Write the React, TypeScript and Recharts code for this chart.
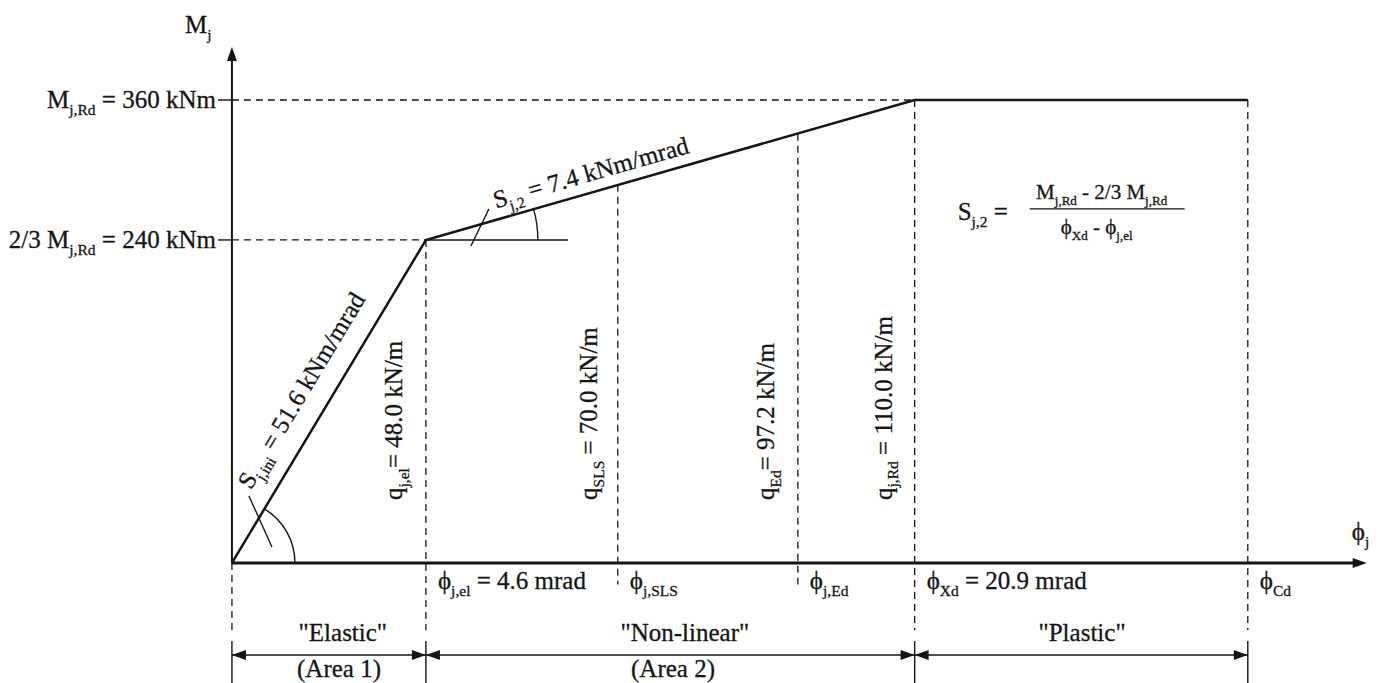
import React from 'react';
import { ComposedChart, Line, XAxis, YAxis, ReferenceLine, ReferenceDot } from 'recharts';

type Part = [string, boolean?];

const FONT = '"Liberation Serif", "Times New Roman", Times, serif';
const INK = '#151515';
const FS = 25;

// The sketch is not to scale: phi / M below are where things sit on the drawing,
// the labels carry the real values.
const phiDomain: [number, number] = [-5.5, 27.32];
const mDomain: [number, number] = [-89.2, 418.3];

const curvePhi = [0, 4.6, 16.19, 24.09];
const curveM = [0, 240, 344, 344];

const stationPhi = [4.6, 9.15, 13.42, 16.19, 24.09];
const stationM = [240, 281, 319, 344, 344];
const stationLabels: Part[][] = [
  [['ϕ'], ['j,el', true], [' = 4.6 mrad']],
  [['ϕ'], ['j,SLS', true]],
  [['ϕ'], ['j,Ed', true]],
  [['ϕ'], ['Xd', true], [' = 20.9 mrad']],
  [['ϕ'], ['Cd', true]],
];

const loadLabels: Part[][] = [
  [['q'], ['j,el', true], ['= 48.0 kN/m']],
  [['q'], ['SLS', true], [' = 70.0 kN/m']],
  [['q'], ['Ed', true], ['= 97.2 kN/m']],
  [['q'], ['j,Rd', true], [' = 110.0 kN/m']],
];
const loadShift = [-24, -21, -24, -23];

const levelM = [344, 240];
const levelEnd = [16.19, 4.6];
const levelLabels: Part[][] = [
  [['M'], ['j,Rd', true], [' = 360 kNm']],
  [['2/3 M'], ['j,Rd', true], [' = 240 kNm']],
];

const zoneEdges = [0, 4.6, 16.19, 24.09];
const zoneNames = ['"Elastic"', '"Non-linear"', '"Plastic"'];
const zoneNameAt = [2.63, 10.74, 20.16];
const zoneAreas = ['(Area 1)', '(Area 2)'];
const zoneAreaAt = [2.54, 10.46];

const phiAxisEnd = 26.91;
const mAxisEnd = 383.4;

// drawing levels below the phi axis
const GUIDE_LOW = -50;
const GUIDE_SHORT = -16;
const DIM_Y = -68.4;
const DIM_TOP = -58;
const BOTTOM = -89.2;

function rich(parts: Part[], size: number) {
  let shift = 0;
  return parts.map(([t, isSub], i) => {
    const target = isSub ? size * 0.27 : 0;
    const el = (
      <tspan key={i} dy={target - shift} fontSize={isSub ? size * 0.62 : size}>
        {t}
      </tspan>
    );
    shift = target;
    return el;
  });
}

const textStyle = {
  fontFamily: FONT,
  fill: INK,
  stroke: INK,
  strokeWidth: 0.3,
  whiteSpace: 'pre' as const,
};

function seg(key: string, x1: number, y1: number, x2: number, y2: number, style: any) {
  return (
    <ReferenceLine
      key={key}
      segment={[{ x: x1, y: y1 }, { x: x2, y: y2 }]}
      ifOverflow="visible"
      {...style}
    />
  );
}

function note(key: string, x: number, y: number, draw: (cx: number, cy: number) => React.ReactElement) {
  return (
    <ReferenceDot
      key={key}
      x={x}
      y={y}
      r={0}
      ifOverflow="visible"
      shape={(p: any) => draw(p.cx, p.cy)}
    />
  );
}

function arrow(key: string, x: number, y: number, dir: 'up' | 'left' | 'right', len = 14, half = 5) {
  return note(key, x, y, (cx, cy) => {
    let pts = '';
    if (dir === 'up') pts = `${cx},${cy} ${cx - half},${cy + len} ${cx + half},${cy + len}`;
    if (dir === 'right') pts = `${cx},${cy} ${cx - len},${cy - half} ${cx - len},${cy + half}`;
    if (dir === 'left') pts = `${cx},${cy} ${cx + len},${cy - half} ${cx + len},${cy + half}`;
    return <polygon points={pts} fill={INK} />;
  });
}

function arc(key: string, x: number, y: number, r: number, deg: number) {
  return note(key, x, y, (cx, cy) => {
    const a = (deg * Math.PI) / 180;
    const d = `M ${cx + r} ${cy} A ${r} ${r} 0 0 0 ${cx + r * Math.cos(a)} ${cy - r * Math.sin(a)}`;
    return <path d={d} fill="none" stroke={INK} strokeWidth={1.4} />;
  });
}

export default function App() {
  const data = curvePhi.map((phi, i) => ({ phi, m: curveM[i] }));
  const dashed = { stroke: INK, strokeWidth: 1.3, strokeDasharray: '7 5' };
  const thin = { stroke: INK, strokeWidth: 1.4 };

  return (
    <div style={{ position: 'absolute', left: 0, top: 0, width: 1384, height: 683, background: '#fff' }}>
      <ComposedChart width={1384} height={683} data={data} margin={{ top: 0, right: 0, bottom: 0, left: 0 }}>
        <XAxis dataKey="phi" type="number" domain={phiDomain} allowDataOverflow hide />
        <YAxis type="number" domain={mDomain} allowDataOverflow hide />

        {/* guide lines */}
        {levelM.map((m, i) => seg(`lv${i}`, 0, m, levelEnd[i], m, dashed))}
        {levelM.map((m, i) => seg(`lt${i}`, -0.33, m, 0, m, thin))}
        {seg('o-guide', 0, 0, 0, GUIDE_LOW, dashed)}
        {stationPhi.map((p, i) =>
          seg(`st${i}`, p, stationM[i], p, i === 1 || i === 2 ? GUIDE_SHORT : GUIDE_LOW, dashed),
        )}

        {/* dimension line */}
        {zoneEdges.map((p, i) => seg(`dt${i}`, p, DIM_TOP, p, BOTTOM, thin))}
        {zoneNames.map((_, i) => seg(`dl${i}`, zoneEdges[i], DIM_Y, zoneEdges[i + 1], DIM_Y, thin))}
        {zoneNames.map((_, i) => arrow(`dal${i}`, zoneEdges[i], DIM_Y, 'left'))}
        {zoneNames.map((_, i) => arrow(`dar${i}`, zoneEdges[i + 1], DIM_Y, 'right'))}

        {/* stiffness construction */}
        {seg('hz', 4.6, 240, 7.97, 240, thin)}
        {seg('ld1', 0.403, 49.8, 0.949, 11.9, thin)}
        {seg('ld2', 6.094, 263.0, 5.667, 235.5, thin)}
        {arc('a1', 0, 0, 63, 59)}
        {arc('a2', 4.6, 240, 112, 16)}

        {/* axes */}
        {seg('xa', 0, 0, phiAxisEnd - 0.2, 0, { stroke: INK, strokeWidth: 3 })}
        {seg('ya', 0, 0, 0, mAxisEnd - 5, { stroke: INK, strokeWidth: 2 })}
        {arrow('xah', phiAxisEnd, 0, 'right', 14, 5)}
        {arrow('yah', 0, mAxisEnd, 'up', 14, 5)}

        <Line
          type="linear"
          dataKey="m"
          stroke={INK}
          strokeWidth={2.5}
          dot={false}
          activeDot={false}
          isAnimationActive={false}
        />

        {/* texts */}
        {note('mj', 0, mAxisEnd, (cx, cy) => (
          <text x={cx - 47} y={cy - 14} style={textStyle} fontSize={FS}>
            {rich([['M'], ['j', true]], FS)}
          </text>
        ))}
        {note('phij', phiAxisEnd, 0, (cx, cy) => (
          <text x={cx - 15} y={cy - 23} style={textStyle} fontSize={FS}>
            {rich([['ϕ'], ['j', true]], FS)}
          </text>
        ))}
        {levelM.map((m, i) =>
          note(`ll${i}`, 0, m, (cx, cy) => (
            <text x={cx - 16} y={cy + 8} textAnchor="end" style={textStyle} fontSize={FS}>
              {rich(levelLabels[i], FS)}
            </text>
          )),
        )}
        {stationPhi.map((p, i) =>
          note(`sl${i}`, p, 0, (cx, cy) => (
            <text x={cx + 12} y={cy + 26} style={textStyle} fontSize={FS}>
              {rich(stationLabels[i], FS)}
            </text>
          )),
        )}
        {loadLabels.map((parts, i) =>
          note(`ql${i}`, stationPhi[i], 0, (cx, cy) => (
            <g transform={`translate(${cx},${cy}) rotate(-90)`}>
              <text x={63} y={loadShift[i]} style={textStyle} fontSize={FS}>
                {rich(parts, FS)}
              </text>
            </g>
          )),
        )}
        {note('sini', 0, 0, (cx, cy) => (
          <g transform={`translate(${cx},${cy}) rotate(-59)`}>
            <text x={72} y={-21} style={textStyle} fontSize={FS}>
              {rich([['S'], ['j,ini', true], [' = 51.6 kNm/mrad']], FS)}
            </text>
          </g>
        ))}
        {note('s2', 4.6, 240, (cx, cy) => (
          <g transform={`translate(${cx},${cy}) rotate(-16)`}>
            <text x={76} y={-11} style={textStyle} fontSize={FS}>
              {rich([['S'], ['j,2', true], [' = 7.4 kNm/mrad']], FS)}
            </text>
          </g>
        ))}
        {note('formula', 16.19, 240, (cx, cy) => (
          <g>
            <text x={cx + 43} y={cy - 20} style={textStyle} fontSize={FS}>
              {rich([['S'], ['j,2', true], [' =']], FS)}
            </text>
            <text x={cx + 187} y={cy - 41} textAnchor="middle" style={textStyle} fontSize={21}>
              {rich([['M'], ['j,Rd', true], [' - 2/3 M'], ['j,Rd', true]], 21)}
            </text>
            <line x1={cx + 115} x2={cx + 270} y1={cy - 31} y2={cy - 31} stroke={INK} strokeWidth={1.3} />
            <text x={cx + 182} y={cy - 6} textAnchor="middle" style={textStyle} fontSize={21}>
              {rich([['ϕ'], ['Xd', true], [' - ϕ'], ['j,el', true]], 21)}
            </text>
          </g>
        ))}
        {zoneNames.map((name, i) =>
          note(`zn${i}`, zoneNameAt[i], DIM_Y, (cx, cy) => (
            <text x={cx} y={cy - 14} textAnchor="middle" style={textStyle} fontSize={FS}>
              {name}
            </text>
          )),
        )}
        {zoneAreas.map((name, i) =>
          note(`za${i}`, zoneAreaAt[i], DIM_Y, (cx, cy) => (
            <text x={cx} y={cy + 22} textAnchor="middle" style={textStyle} fontSize={FS}>
              {name}
            </text>
          )),
        )}
      </ComposedChart>
    </div>
  );
}
